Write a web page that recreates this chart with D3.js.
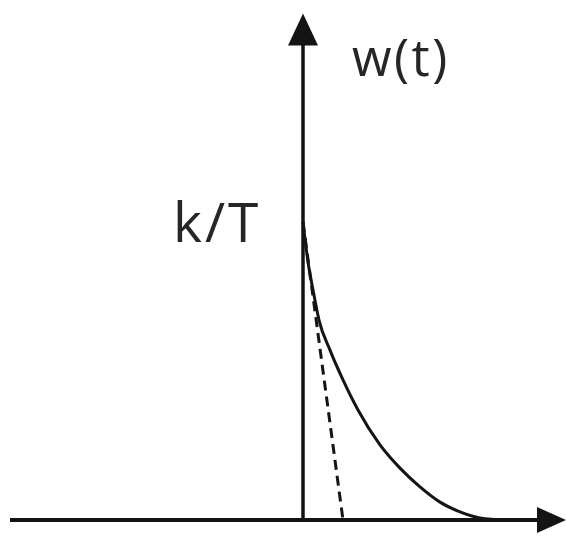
<!DOCTYPE html>
<html>
<head>
<meta charset="utf-8">
<script src="https://cdn.jsdelivr.net/npm/d3@7"></script>
<style>
  html, body { margin: 0; padding: 0; background: #fff; }
  svg { display: block; }
</style>
</head>
<body>
<svg id="chart" width="566" height="538"></svg>
<script>
  // curve, t in units of T, w in units of k/T
  const curveT = [0, 0.125, 0.25, 0.4, 0.675, 1.0, 1.375, 1.925, 2.425, 2.925, 3.425, 3.925, 4.425, 5.1];
  const curveW = [1, 0.866, 0.772, 0.671, 0.570, 0.470, 0.369, 0.252, 0.174, 0.111, 0.060, 0.027, 0.007, 0];
  // tangent at t=0, hits zero at t=T
  const tangentT = [0, 1];
  const tangentW = [1, 0];
  const labels = ["w(t)", "k/T"];

  const width = 566, height = 538;
  const ink = "#141414";

  var svg = d3.select("#chart");

  const x = d3.scaleLinear().domain([-7.325, 6.575]).range([10, 566]);
  const y = d3.scaleLinear().domain([0, 1]).range([520, 222]);
  const yTop = 1.70;

  // axes
  svg.append("line")
    .attr("x1", x(-7.325)).attr("x2", x(6.0))
    .attr("y1", y(0)).attr("y2", y(0))
    .attr("stroke", ink).attr("stroke-width", 4);
  svg.append("line")
    .attr("x1", x(0)).attr("x2", x(0))
    .attr("y1", y(0)).attr("y2", y(yTop - 0.08))
    .attr("stroke", ink).attr("stroke-width", 3.5);

  // arrowheads
  const xTip = [x(6.575), y(0)];
  svg.append("path")
    .attr("d", `M${xTip[0]},${xTip[1]} L${xTip[0] - 29},${xTip[1] - 13} L${xTip[0] - 29},${xTip[1] + 13} Z`)
    .attr("fill", ink);
  const yTip = [x(0), y(yTop)];
  svg.append("path")
    .attr("d", `M${yTip[0]},${yTip[1]} L${yTip[0] - 15},${yTip[1] + 32} L${yTip[0] + 15},${yTip[1] + 32} Z`)
    .attr("fill", ink);

  // response curve
  const pts = curveT.map((t, i) => [t, curveW[i]]);
  const line = d3.line()
    .x(d => x(d[0]))
    .y(d => y(d[1]))
    .curve(d3.curveMonotoneX);
  svg.append("path")
    .datum(pts)
    .attr("d", line)
    .attr("fill", "none")
    .attr("stroke", ink)
    .attr("stroke-width", 3);

  // dashed tangent
  const tan = tangentT.map((t, i) => [t, tangentW[i]]);
  svg.append("path")
    .datum(tan)
    .attr("d", d3.line().x(d => x(d[0])).y(d => y(d[1])))
    .attr("fill", "none")
    .attr("stroke", ink)
    .attr("stroke-width", 3)
    .attr("stroke-dasharray", "10,6");

  // labels
  svg.append("text")
    .text(labels[0])
    .attr("x", 352).attr("y", 76)
    .attr("font-family", "Open Sans, sans-serif")
    .attr("font-size", 51)
    .attr("letter-spacing", 2.5)
    .attr("fill", "#262626");
  svg.append("text")
    .text(labels[1])
    .attr("x", 173).attr("y", 242)
    .attr("font-family", "Open Sans, sans-serif")
    .attr("font-size", 55)
    .attr("letter-spacing", 3)
    .attr("fill", "#262626");
</script>
</body>
</html>
